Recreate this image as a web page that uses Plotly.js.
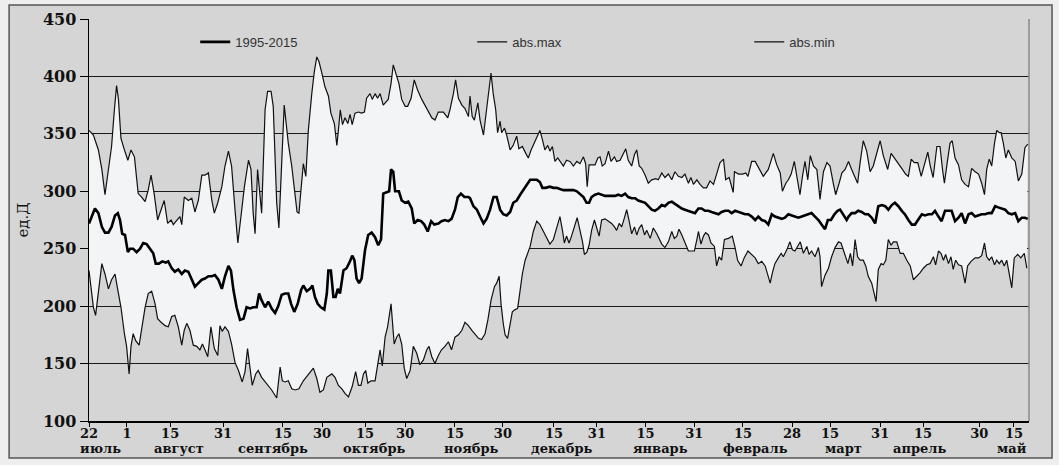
<!DOCTYPE html>
<html>
<head>
<meta charset="utf-8">
<script src="https://cdn.plot.ly/plotly-3.0.1.min.js"></script>
<style>html,body{margin:0;padding:0;background:#eeeeee;}#chart{width:1059px;height:465px;}</style>
</head>
<body>
<div id="chart"></div>
<script>
// x = position along the season (days from 22 July, as drawn)
const maxDay = [0,1.4,3.0,4.1,5.1,6.2,7.2,8.1,8.8,9.4,
10.2,11.3,12.4,13.4,14.5,15.7,16.8,17.9,18.9,19.8,
20.8,21.9,23.0,24.0,25.1,26.2,26.9,28.0,29.0,29.6,
30.4,31.7,32.8,33.8,34.9,36.0,37.0,38.1,39.2,40.0,
41.1,42.4,43.4,44.5,45.5,46.6,47.5,48.5,49.6,50.9,
51.7,52.4,53.0,53.8,54.6,55.1,56.2,57.0,58.1,58.8,
59.9,60.6,62.3,63.6,64.7,65.8,66.4,67.0,67.7,68.4,
69.2,70.0,71.1,71.9,72.7,73.4,74.3,75.3,76.4,77.2,
78.3,79.1,79.6,80.2,80.9,81.7,82.6,83.3,84.0,84.9,
86.0,87.0,87.9,88.6,89.7,90.4,91.3,92.1,92.9,93.9,
95.5,96.4,97.1,97.9,98.9,99.8,100.9,101.7,102.8,103.8,
104.9,106.2,107.8,109.4,110.4,111.5,113.1,114.5,115.2,116.3,
117.0,117.9,119.0,120.0,121.1,121.6,122.3,123.0,124.1,124.8,
125.9,126.9,127.7,128.3,129.0,129.8,130.4,131.2,131.7,132.6,
133.3,134.4,135.4,136.5,137.2,138.3,139.4,140.2,141.1,142.1,
143.2,143.9,144.7,145.5,146.4,147.1,147.9,148.7,149.6,150.3,
151.4,152.4,153.5,154.6,155.7,156.7,157.8,158.5,159.0,159.6,
160.4,161.5,162.4,163.1,163.8,164.7,165.8,166.6,167.7,168.4,
169.5,170.5,171.3,172.1,173.2,174.1,174.8,175.6,176.4,177.5,
178.5,179.6,180.9,181.7,182.8,183.8,184.9,186.0,187.0,188.1,
189.2,190.2,191.3,192.1,192.9,194.0,195.0,196.1,197.1,198.2,
199.3,200.3,201.4,202.5,203.2,204.3,205.1,205.6,206.0,207.3,
208.6,209.6,210.3,211.5,212.6,213.9,215.2,216.8,218.4,219.5,
220.6,221.3,222.4,223.2,224.1,225.1,226.2,226.9,227.7,228.5,
229.4,230.2,231.2,232.3,233.3,234.4,235.5,236.5,237.6,238.3,
239.4,240.3,241.3,242.4,243.4,244.5,245.3,246.1,247.1,248.2,
249.3,250.3,251.4,252.5,253.5,254.9,256.0,257.2,258.5,259.6,
260.6,261.5,262.4,263.4,264.5,265.6,266.6,267.7,268.5,269.4,
270.6,271.6,272.4,273.0,273.8,274.8,275.5,276.4,277.5,278.5,
279.6,280.7,281.7,282.8,283.9,284.9,285.8,286.5,287.3,288.1,
289.0,289.7,290.5,291.1,291.8,292.6,293.4,294.5,295.6,296.6,
297.7,298.7,299.6];
const maxVal = [353,349,336,319,297,319,339,371,392,380,
346,336,327,336,330,298,295,291,301,314,
298,275,284,292,272,275,271,275,278,271,
295,292,294,282,292,314,314,316,292,281,
290,304,322,335,322,284,255,278,304,327,
319,281,263,319,292,281,371,387,387,374,
290,268,375,342,322,295,282,281,307,324,
313,353,385,404,417,413,403,391,383,368,
359,340,353,371,358,364,359,367,358,368,
369,368,369,381,385,380,385,381,385,375,
380,394,410,403,394,380,374,374,381,397,
388,380,372,364,362,369,369,364,371,385,
397,381,375,372,365,383,365,362,377,362,
349,371,391,403,385,371,351,361,351,355,
349,336,340,348,337,339,333,329,336,342,
349,353,345,336,340,335,339,326,329,326,
322,327,326,322,326,324,330,324,304,323,
323,323,329,330,322,324,335,326,330,326,
327,332,337,327,322,332,336,322,320,314,
307,310,311,310,316,312,315,310,317,313,
312,315,307,312,306,310,306,303,303,309,
306,315,325,328,310,312,304,299,317,315,
315,316,313,326,326,319,313,319,333,323,
316,300,307,310,315,326,310,297,313,326,
310,331,322,319,293,317,325,322,306,297,
307,316,319,326,319,312,307,325,344,335,
317,322,332,344,331,319,333,328,323,319,
315,313,328,325,325,313,323,334,322,312,
339,339,319,307,323,342,344,329,323,310,
306,304,320,317,315,307,297,319,328,322,
342,353,351,351,342,329,336,329,326,309,
315,338,341];

const meanDay = [0,0.8,1.9,3.0,4.1,5.1,6.2,7.2,8.3,9.2,
9.9,10.6,11.5,12.4,13.1,14.1,15.2,16.3,17.3,18.4,
19.5,20.5,21.3,22.3,23.4,24.5,25.3,26.4,27.4,28.5,
29.6,30.6,31.7,32.8,33.8,34.9,36.0,37.0,38.1,39.2,
40.2,41.3,42.4,43.4,44.5,45.3,46.1,47.1,48.2,49.3,
50.3,51.4,52.4,53.5,54.3,55.1,56.2,57.2,58.3,59.4,
60.4,61.5,62.6,63.6,64.5,65.5,66.6,67.7,68.4,69.5,
70.5,71.3,72.1,73.0,74.0,75.1,75.9,76.4,77.2,78.0,
78.7,79.4,80.1,81.2,82.2,83.3,84.0,84.7,85.4,86.2,
87.0,88.1,89.1,90.2,91.3,92.3,93.2,93.9,95.0,95.8,
96.4,97.1,97.7,98.9,99.8,100.9,101.9,103.0,103.8,104.9,
106.0,107.0,108.1,109.2,110.2,111.5,112.5,113.6,114.7,115.7,
116.8,117.7,118.7,119.8,121.1,121.6,122.7,123.8,124.8,125.9,
126.9,128.0,129.1,130.1,131.2,132.2,133.3,134.4,135.4,136.5,
137.6,138.6,139.7,140.8,141.8,142.9,143.9,144.7,145.7,147.1,
148.2,149.3,150.3,151.4,152.4,153.5,154.6,155.7,156.7,157.8,
158.8,159.6,160.4,161.5,162.6,163.6,164.7,165.8,166.8,167.9,
168.9,170.0,171.1,172.1,173.2,174.3,175.3,176.4,177.5,178.5,
179.6,180.6,181.7,182.8,183.8,184.9,186.0,187.0,188.1,189.2,
190.2,191.3,192.4,193.4,194.5,195.5,196.6,197.7,198.7,199.8,
200.9,201.9,203.0,204.1,205.1,206.2,207.2,208.3,209.4,210.4,
211.5,212.6,213.6,214.7,215.8,216.8,217.9,218.9,220.0,221.1,
222.1,223.2,224.3,225.3,226.4,227.5,228.5,229.6,230.6,231.7,
232.8,233.8,234.9,235.8,236.8,237.9,238.9,239.7,240.7,241.8,
242.4,243.4,244.5,245.5,246.6,247.7,248.7,249.8,250.9,251.9,
253.0,254.1,255.1,256.2,257.2,258.3,259.4,260.4,261.5,262.6,
263.6,264.7,265.8,266.8,267.9,269.0,270.0,271.1,272.1,273.2,
274.3,275.3,276.4,277.5,278.5,279.6,280.7,281.7,282.8,283.9,
284.9,286.0,287.1,288.1,289.2,290.2,291.3,292.4,293.4,294.5,
295.6,296.6,297.7,298.7,299.6];
const meanVal = [272,278,285,281,269,264,264,269,279,281,
275,263,262,247,250,250,247,250,255,254,
250,246,237,237,239,238,239,233,230,232,
228,231,230,223,217,220,223,224,226,226,
227,223,215,226,235,231,214,199,188,189,
199,198,199,199,211,205,199,204,198,194,
200,210,211,211,202,195,202,214,218,213,
215,218,208,202,199,197,211,231,231,208,
208,215,211,231,233,239,244,240,224,220,
224,249,262,264,260,253,258,298,299,300,
319,317,300,300,292,290,291,285,272,275,
274,271,265,274,271,272,274,275,274,276,
284,295,298,295,295,294,287,284,278,272,
276,284,295,295,284,280,279,282,290,292,
297,301,306,310,310,310,308,303,303,304,
303,303,302,301,301,301,301,300,298,295,
290,290,295,297,298,297,296,296,296,296,
297,296,298,295,294,294,292,291,290,287,
284,283,285,288,287,290,291,289,287,285,
284,283,282,281,285,285,283,283,282,281,
280,282,283,283,281,283,282,281,280,280,
278,275,278,275,274,271,280,278,277,276,
277,280,279,278,277,278,279,280,281,278,
275,271,267,275,275,280,283,284,280,275,
278,281,281,283,282,280,280,277,272,287,
288,287,284,288,290,287,283,280,275,271,
271,275,280,279,280,280,283,278,274,283,
283,283,274,277,281,272,280,281,278,279,
280,280,281,281,287,286,285,284,281,280,
281,274,277,277,276];

const minDay = [0,0.6,1.4,2.1,3.0,4.1,5.1,6.2,7.2,8.3,
9.2,10.2,11.3,12.0,12.8,13.4,14.1,14.9,16.0,16.8,
17.9,18.9,20.0,21.1,21.9,23.0,24.3,25.3,26.4,27.4,
28.5,29.6,30.4,31.2,32.2,33.3,34.4,35.4,36.2,37.0,
37.9,38.9,40.0,41.1,41.8,42.5,43.4,44.5,45.5,46.6,
47.7,48.9,49.8,50.6,51.4,52.1,53.2,54.0,55.1,56.2,
57.2,58.3,59.9,61.0,61.7,62.6,63.6,64.7,65.8,67.0,
68.4,70.0,71.6,72.7,73.7,74.8,75.9,77.5,78.5,79.6,
80.7,81.7,82.8,84.0,85.1,86.0,86.8,87.6,88.3,89.0,
90.0,91.3,92.1,92.9,93.6,94.5,95.3,96.4,96.8,97.4,
98.2,98.9,99.8,100.6,101.4,102.5,103.5,104.6,105.6,106.7,
107.8,108.5,109.4,110.4,111.5,112.5,113.6,114.7,115.7,116.8,
117.9,119.0,120.0,121.1,122.2,123.2,124.3,125.3,126.4,127.3,
128.3,129.4,130.1,130.9,131.5,132.2,132.8,133.6,134.4,135.1,
136.0,136.8,137.6,138.3,139.2,140.0,140.8,141.8,142.9,143.9,
145.0,146.1,147.1,148.2,149.3,150.3,151.1,151.7,152.4,153.2,
154.0,154.9,155.8,156.7,157.5,158.1,158.9,159.6,160.4,161.3,
162.0,162.8,163.6,164.7,165.8,166.8,167.7,168.4,169.2,170.0,
170.9,171.6,172.4,173.2,174.1,174.8,175.6,176.4,177.3,178.0,
179.1,180.1,181.2,181.7,182.8,183.8,184.9,186.0,186.8,187.6,
188.3,189.2,190.2,191.3,192.4,193.2,194.0,194.5,195.3,196.1,
196.8,197.7,198.5,199.6,200.3,201.1,201.9,202.8,204.1,205.3,
206.2,207.0,208.1,209.1,210.3,211.5,212.6,213.6,214.7,215.8,
216.8,217.4,218.1,218.9,220.0,220.9,221.6,222.7,223.7,224.5,
225.3,226.2,227.0,228.0,229.1,229.8,230.6,231.7,232.8,233.3,
233.8,234.9,236.0,237.0,238.1,239.2,240.0,241.1,242.2,243.0,
243.7,244.5,245.3,246.1,247.1,247.9,248.7,249.8,250.7,251.2,
251.9,252.8,253.5,254.3,255.1,256.0,256.7,257.8,258.9,259.9,
261.0,262.1,263.1,264.2,265.2,266.3,267.4,268.4,269.5,270.2,
271.1,271.9,272.7,273.4,274.3,275.1,275.8,276.6,277.5,278.5,
279.6,280.4,281.5,282.8,283.9,284.9,285.8,286.5,287.3,288.1,
289.0,289.7,290.5,291.3,292.1,292.9,293.6,294.5,295.3,296.4,
297.4,298.5,299.3];
const minVal = [231,217,199,192,214,237,228,215,223,228,
214,199,176,165,141,165,176,170,166,179,
199,211,213,202,189,186,183,182,191,192,
182,166,179,185,179,166,165,162,167,162,
156,182,163,157,183,178,182,178,167,151,
144,134,143,163,144,131,141,144,138,134,
131,127,120,147,135,134,135,128,127,128,
135,140,146,137,125,127,138,141,138,131,
128,124,121,130,143,131,131,141,144,133,
135,135,148,162,148,173,182,202,188,167,
173,176,167,146,137,144,165,159,149,153,
162,165,156,150,157,162,165,169,162,173,
175,179,186,183,179,176,172,171,176,188,
205,217,220,226,202,185,175,172,185,195,
197,198,214,228,240,247,252,265,274,271,
265,259,254,258,268,278,266,255,261,255,
261,269,277,266,256,245,247,253,266,275,
269,261,275,276,274,272,269,266,272,269,
277,284,274,263,269,262,268,271,262,266,
259,268,263,260,254,251,256,265,259,261,
267,262,255,248,248,248,258,265,254,261,
264,262,255,252,235,243,240,258,259,261,
251,240,235,242,248,245,242,237,239,235,
226,220,229,237,242,246,243,249,256,249,
248,252,256,246,252,245,248,243,251,243,
217,227,233,243,251,256,255,246,237,246,
235,258,243,240,240,235,226,220,208,204,
232,237,236,240,258,253,256,256,246,246,
240,235,223,226,229,233,236,237,243,236,
248,246,240,245,237,243,232,240,236,235,
220,235,239,242,242,244,255,243,240,243,
236,240,237,240,235,240,230,216,242,245,
242,246,233];

const seriesNames = ['1995-2015', 'abs.max', 'abs.min'];
const tickDays = [0,12.1,25.9,42.8,61.9,74.4,88.1,100.9,116.8,132.1,148.4,162.1,177.6,193.2,208.7,224.4,236.5,252.5,266.2,284.1,295.2];
const tickLabels = ['22','1','15','31','15','30','15','30','15','30','15','31','15','31','15','28','15','31','15','30','15'];
const monthNames = ['июль','август','сентябрь','октябрь','ноябрь','декабрь','январь','февраль','март','апрель','май'];
const monthDays = [3.8,28.7,58.7,91,122,151,182.3,212.6,240.7,264.9,294.6];
const yTicks = [100,150,200,250,300,350,400,450];

const serif = 'DejaVu Serif, Liberation Serif, serif';

const fillTrace = {
  x: maxDay.concat(minDay.slice().reverse()),
  y: maxVal.concat(minVal.slice().reverse()),
  type: 'scatter', mode: 'lines', fill: 'toself',
  fillcolor: '#f3f4f6', line: {width: 0, color: 'rgba(0,0,0,0)'},
  showlegend: false, hoverinfo: 'skip'
};
const meanTrace = {x: meanDay, y: meanVal, type: 'scatter', mode: 'lines', name: seriesNames[0],
  line: {color: '#000', width: 2.6}};
const maxTrace = {x: maxDay, y: maxVal, type: 'scatter', mode: 'lines', name: seriesNames[1],
  line: {color: '#111', width: 1.2}};
const minTrace = {x: minDay, y: minVal, type: 'scatter', mode: 'lines', name: seriesNames[2],
  line: {color: '#111', width: 1.2}};

const annotations = monthNames.map((m, i) => ({
  x: monthDays[i], xref: 'x', y: -0.068, yref: 'paper', yanchor: 'middle', xanchor: 'center',
  text: m, showarrow: false, font: {family: serif, size: 13, weight: 'bold', color: '#111'}
}));

const layout = {
  width: 1059, height: 465,
  margin: {l: 89, r: 30, t: 19, b: 44},
  paper_bgcolor: '#eeeeee',
  plot_bgcolor: '#d5d5d5',
  showlegend: true,
  legend: {orientation: 'h', x: 0.113, xanchor: 'left', y: 0.943, yanchor: 'middle',
    bgcolor: 'rgba(0,0,0,0)', entrywidth: 232, entrywidthmode: 'pixels',
    font: {family: 'Liberation Sans, Arial, sans-serif', size: 13, color: '#333'}},
  xaxis: {range: [0, 300], tickmode: 'array', tickvals: tickDays, ticktext: tickLabels,
    showgrid: false, zeroline: false, showline: true, linecolor: '#000', linewidth: 1.5,
    ticks: 'outside', ticklen: 4, tickcolor: '#000', ticklabelstandoff: -4,
    tickfont: {family: serif, size: 13, weight: 'bold', color: '#111'}},
  yaxis: {range: [100, 450], tickmode: 'array', tickvals: yTicks,
    showgrid: true, gridcolor: '#1a1a1a', gridwidth: 1, zeroline: false,
    showline: true, linecolor: '#000', linewidth: 1.5,
    ticks: 'outside', ticklen: 8, tickcolor: '#000',
    tickfont: {family: serif, size: 16, weight: 'bold', color: '#111'},
    title: {text: 'ед.Д', standoff: 10, font: {family: serif, size: 15, color: '#111'}}},
  shapes: [
    {type: 'rect', xref: 'paper', yref: 'paper', x0: -0.085, x1: 1.0245, y0: -0.092, y1: 1.035,
     line: {color: '#555', width: 1.5}, fillcolor: '#d5d5d5', layer: 'below'},
    {type: 'line', xref: 'paper', yref: 'paper', x0: 1, x1: 1, y0: 0, y1: 1,
     line: {color: '#888', width: 1.5}}
  ],
  annotations: annotations
};

Plotly.newPlot('chart', [fillTrace, meanTrace, maxTrace, minTrace], layout, {displayModeBar: false, staticPlot: true});
</script>
</body>
</html>
